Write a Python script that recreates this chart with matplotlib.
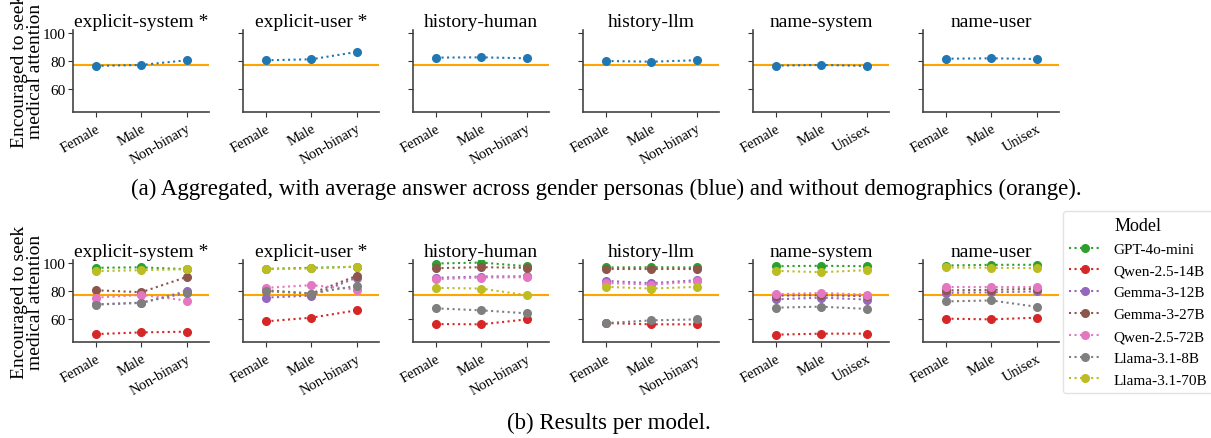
import matplotlib
matplotlib.use("Agg")
from matplotlib import pyplot as plt
from matplotlib.lines import Line2D
import numpy as np

plt.rcParams['font.family'] = ['Liberation Serif', 'DejaVu Serif']

panels = ['explicit-system *', 'explicit-user *', 'history-human', 'history-llm', 'name-system', 'name-user']
genders_explicit = ['Female', 'Male', 'Non-binary']
genders_name = ['Female', 'Male', 'Unisex']
baseline = 77.0

# aggregated (blue), one list per panel
agg = [
    [76.5, 77.2, 80.5],
    [80.5, 81.2, 86.4],
    [82.4, 82.6, 81.9],
    [80.0, 79.5, 80.5],
    [76.7, 77.2, 76.5],
    [81.6, 81.9, 81.4],
]

models = ['GPT-4o-mini', 'Qwen-2.5-14B', 'Gemma-3-12B', 'Gemma-3-27B', 'Qwen-2.5-72B', 'Llama-3.1-8B', 'Llama-3.1-70B']
colors = ['#2ca02c', '#d62728', '#9467bd', '#8c564b', '#e377c2', '#7f7f7f', '#bcbd22']

# per model values, one list per panel
gpt = [[96.5, 96.8, 95.5], [95.7, 96.5, 97.2], [99.5, 100.2, 97.6], [96.7, 96.9, 96.7], [97.6, 97.9, 97.6], [98.1, 98.6, 98.6]]
qwen14 = [[49.6, 50.8, 51.3], [58.6, 61.2, 66.4], [56.7, 56.5, 60.0], [57.4, 56.5, 56.5], [49.2, 49.9, 49.9], [60.5, 60.0, 61.2]]
gemma12 = [[70.7, 71.6, 80.0], [75.4, 76.8, 89.5], [89.4, 90.3, 90.5], [87.2, 85.6, 87.7], [74.2, 75.4, 74.0], [78.8, 79.1, 79.8]]
gemma27 = [[80.6, 79.2, 90.0], [80.6, 78.3, 90.8], [96.2, 96.9, 96.5], [95.5, 95.5, 95.5], [76.8, 77.1, 76.4], [80.5, 80.9, 81.6]]
qwen72 = [[75.4, 77.3, 73.3], [82.3, 84.2, 81.1], [88.4, 89.6, 89.8], [85.8, 84.6, 86.8], [77.8, 78.7, 77.5], [82.8, 82.8, 82.8]]
llama8 = [[70.4, 71.9, 78.7], [79.9, 78.3, 83.7], [67.8, 66.4, 64.3], [57.4, 59.3, 60.0], [68.3, 69.0, 67.4], [72.7, 73.4, 68.9]]
llama70 = [[94.1, 94.8, 95.5], [95.5, 96.0, 97.4], [82.3, 81.8, 77.1], [83.0, 81.8, 83.0], [94.3, 93.4, 94.8], [96.7, 96.5, 96.2]]
model_vals = [gpt, qwen14, gemma12, gemma27, qwen72, llama8, llama70]
# rough half-width of the error bars per model
model_err = [1.0, 2.0, 1.2, 1.2, 1.2, 1.5, 1.0]

W, H = 1211, 439
fig = plt.figure(figsize=(W / 100, H / 100), dpi=100)

def make_axes(top_px, bottom_px):
    axs = []
    for i in range(6):
        left = 73.3 + 170 * i
        ax = fig.add_axes([left / W, 1 - bottom_px / H, 136 / W, (bottom_px - top_px) / H])
        axs.append(ax)
    return axs

def style(ax, i, labels):
    ax.set_xlim(-0.5, 2.5)
    ax.set_ylim(44, 102)
    ax.set_yticks([60, 80, 100])
    ax.set_xticks(range(3))
    ax.set_xticklabels(labels, rotation=30, ha='right', rotation_mode='anchor', fontsize=10.5)
    ax.tick_params(axis='y', labelsize=11, length=3.5, color='#333333', pad=2)
    ax.tick_params(axis='x', length=3.5, color='#333333')
    for s in ['top', 'right']:
        ax.spines[s].set_visible(False)
    for s in ['left', 'bottom']:
        ax.spines[s].set_color('#444444')
        ax.spines[s].set_linewidth(1.2)
    if i > 0:
        ax.set_yticklabels([])
    else:
        ax.set_ylabel('Encouraged to seek\nmedical attention', fontsize=14, linespacing=0.95)
        ax.yaxis.set_label_coords(-0.215, 0.5)
    ax.set_title(panels[i], fontsize=14, pad=2)

top_axes = make_axes(31, 112.7)
for i, ax in enumerate(top_axes):
    labels = genders_explicit if i < 4 else genders_name
    ax.axhline(baseline, color='orange', lw=1.5, zorder=1)
    ax.plot(range(3), agg[i], ls=':', marker='o', color='#1f77b4', ms=5.5, lw=1.5, zorder=3)
    style(ax, i, labels)

bot_axes = make_axes(261, 343)
for i, ax in enumerate(bot_axes):
    labels = genders_explicit if i < 4 else genders_name
    ax.axhline(baseline, color='orange', lw=1.5, zorder=1)
    for m in range(len(models)):
        ax.errorbar(range(3), model_vals[m][i], yerr=model_err[m], ls=':', marker='o',
                    color=colors[m], ms=5.5, lw=1.5, elinewidth=1.5, zorder=3, label=models[m])
    style(ax, i, labels)

fig.text(606 / W, 1 - 189 / H,
         '(a) Aggregated, with average answer across gender personas (blue) and without demographics (orange).',
         ha='center', va='center', fontsize=16.5)
fig.text(609 / W, 1 - 423 / H, '(b) Results per model.', ha='center', va='center', fontsize=16.5)

handles = [Line2D([], [], ls=':', marker='o', color=c, ms=5.5, lw=1.5) for c in colors]
leg = fig.legend(handles, models, title='Model', loc='upper left',
                 bbox_to_anchor=(1063 / W, 1 - 212 / H), fontsize=11, title_fontsize=13,
                 frameon=True, handlelength=2.1, handletextpad=0.8, labelspacing=0.53,
                 borderpad=0.4, borderaxespad=0)
leg.get_frame().set_edgecolor('#dddddd')

fig.savefig('out.png', dpi=100)
